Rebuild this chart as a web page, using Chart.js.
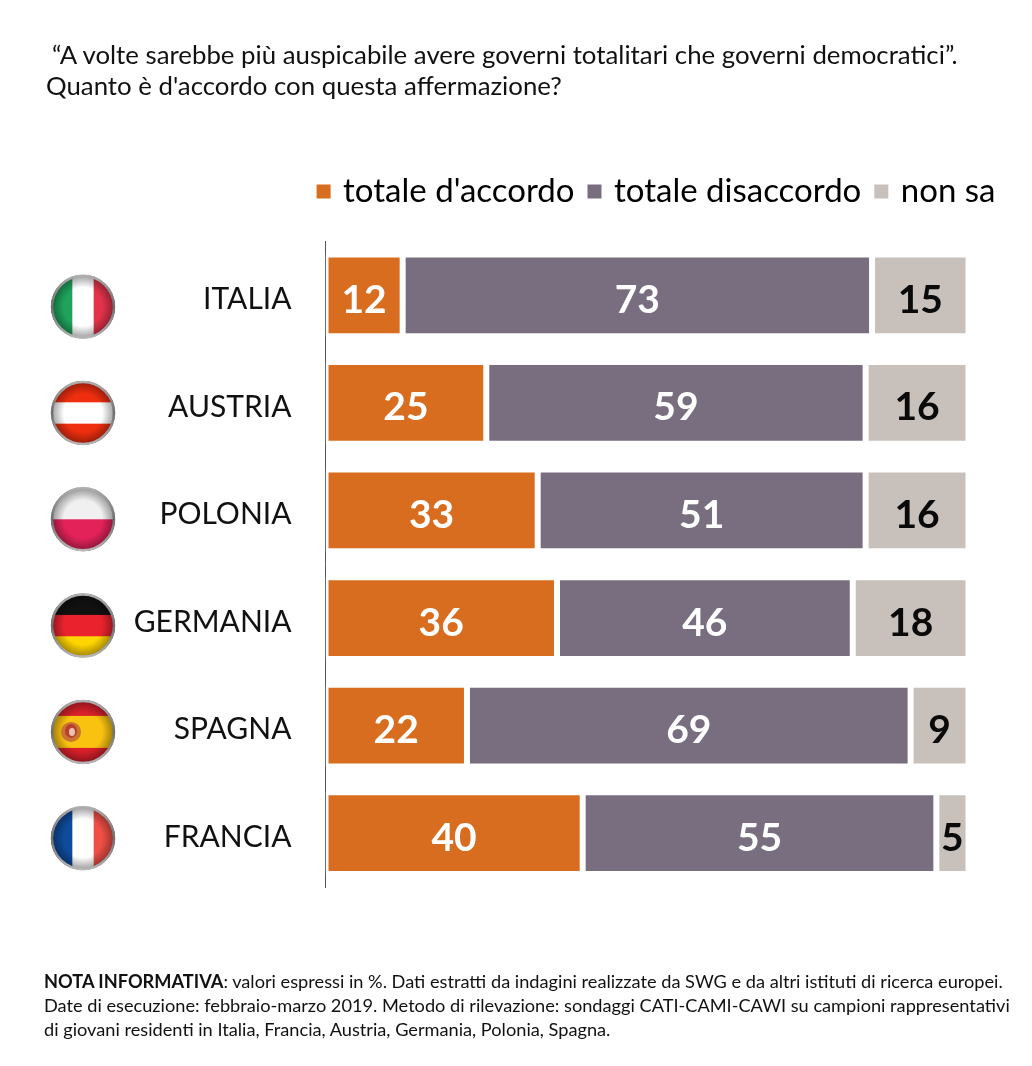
<!DOCTYPE html>
<html lang="it">
<head>
<meta charset="utf-8">
<title>Governi totalitari</title>
<script src="https://cdn.jsdelivr.net/npm/chart.js@4"></script>
<style>
  html, body { margin: 0; padding: 0; background: #fff; }
  body { width: 1032px; height: 1066px; position: relative; overflow: hidden; font-family: Lato, sans-serif; color: #111; }
  #chart { position: absolute; left: 0; top: 0; }
  .title { position: absolute; white-space: nowrap; font-size: 25.8px; line-height: 30px; }
  .note { position: absolute; left: 44px; white-space: nowrap; font-size: 18.2px; line-height: 24px; }
</style>
</head>
<body>
<canvas id="chart" width="1032" height="1066"></canvas>
<div class="title" style="left:52px;top:39px">“A volte sarebbe più auspicabile avere governi totalitari che governi democratici”.</div>
<div class="title" style="left:46px;top:70px">Quanto è d'accordo con questa affermazione?</div>
<div class="note" style="top:969px"><b>NOTA INFORMATIVA</b>: valori espressi in %. Dati estratti da indagini realizzate da SWG e da altri istituti di ricerca europei.</div>
<div class="note" style="top:993px">Date di esecuzione: febbraio-marzo 2019. Metodo di rilevazione: sondaggi CATI-CAMI-CAWI su campioni rappresentativi</div>
<div class="note" style="top:1017px">di giovani residenti in Italia, Francia, Austria, Germania, Polonia, Spagna.</div>
<script>
const countries = ['ITALIA', 'AUSTRIA', 'POLONIA', 'GERMANIA', 'SPAGNA', 'FRANCIA'];
const accordo = [12, 25, 33, 36, 22, 40];
const disaccordo = [73, 59, 51, 46, 69, 55];
const nonSa = [15, 16, 16, 18, 9, 5];

// flags, one list of stripes per country
const flags = [
    { dir: 'v', colors: ['#1fa35c', '#ffffff', '#e2334b'] },
    { dir: 'h', colors: ['#ee2e0f', '#ffffff', '#ee2e0f'] },
    { dir: 'h', colors: ['#f0f0f0', '#e3225a'] },
    { dir: 'h', colors: ['#111111', '#e9222e', '#ffd500'] },
    { dir: 'h', colors: ['#d9202a', '#f9c211', '#f9c211', '#d9202a'] },
    { dir: 'v', colors: ['#0e4b9b', '#ffffff', '#ef4f45'] },
];

const valueLabels = {
    id: 'valueLabels',
    afterDatasetsDraw(chart) {
        const ctx = chart.ctx;
        ctx.save();
        ctx.font = 'bold 39px Lato';
        ctx.textAlign = 'center';
        ctx.textBaseline = 'middle';
        chart.data.datasets.forEach((ds, i) => {
            ctx.fillStyle = i === 2 ? '#0a0a0a' : '#ffffff';
            chart.getDatasetMeta(i).data.forEach((bar, j) => {
                const c = bar.getCenterPoint();
                ctx.fillText(ds.data[j], c.x, c.y + 5);
            });
        });
        ctx.restore();
    }
};

function drawFlag(ctx, flag, x, y, r) {
    ctx.save();
    ctx.beginPath();
    ctx.arc(x, y, r, 0, Math.PI * 2);
    ctx.clip();
    const n = flag.colors.length;
    flag.colors.forEach((color, i) => {
        ctx.fillStyle = color;
        if (flag.dir === 'v') {
            ctx.fillRect(x - r + (2 * r * i) / n, y - r, (2 * r) / n + 1, 2 * r);
        } else {
            ctx.fillRect(x - r, y - r + (2 * r * i) / n, 2 * r, (2 * r) / n + 1);
        }
    });
    const shade = ctx.createRadialGradient(x, y, r * 0.6, x, y, r);
    shade.addColorStop(0, 'rgba(0,0,0,0)');
    shade.addColorStop(1, 'rgba(0,0,0,0.4)');
    ctx.fillStyle = shade;
    ctx.fillRect(x - r, y - r, 2 * r, 2 * r);
    ctx.restore();

    const ring = ctx.createLinearGradient(x, y - r, x, y + r);
    ring.addColorStop(0, '#b0b0b0');
    ring.addColorStop(0.5, '#6e6e6e');
    ring.addColorStop(1, '#b8b8b8');
    ctx.strokeStyle = ring;
    ctx.lineWidth = 2.5;
    ctx.beginPath();
    ctx.arc(x, y, r - 1, 0, Math.PI * 2);
    ctx.stroke();
}

const flagIcons = {
    id: 'flagIcons',
    afterDraw(chart) {
        const ctx = chart.ctx;
        flags.forEach((flag, i) => {
            const y = 306.7 + 106.3 * i;
            drawFlag(ctx, flag, 83, y, 32);
            if (countries[i] === 'SPAGNA') {
                // small coat of arms
                ctx.fillStyle = '#c9752f';
                ctx.beginPath();
                ctx.ellipse(71, y, 10, 10, 0, 0, Math.PI * 2);
                ctx.fill();
                ctx.fillStyle = '#b8402a';
                ctx.beginPath();
                ctx.ellipse(71, y - 1, 6, 7, 0, 0, Math.PI * 2);
                ctx.fill();
                ctx.fillStyle = '#eac3b0';
                ctx.beginPath();
                ctx.ellipse(72, y, 3, 4, 0, 0, Math.PI * 2);
                ctx.fill();
            }
        });
    }
};

// the legend sits higher than the layout puts it and sticks out past the bars
const legendSpot = {
    id: 'legendSpot',
    afterLayout(chart) {
        chart.legend.right += 44;
        chart.legend.top -= 23.5;
    }
};

new Chart(document.getElementById('chart'), {
    type: 'bar',
    data: {
        labels: countries,
        datasets: [
            { label: "totale d'accordo", data: accordo, backgroundColor: '#d86d1f' },
            { label: 'totale disaccordo', data: disaccordo, backgroundColor: '#786e80' },
            { label: 'non sa', data: nonSa, backgroundColor: '#c8c0ba' },
        ],
    },
    options: {
        indexAxis: 'y',
        responsive: false,
        animation: false,
        layout: { padding: { top: 181.5, right: 63.5, bottom: 179, left: 0 } },
        datasets: {
            bar: {
                categoryPercentage: 1,
                barPercentage: 0.76,
                borderWidth: 3,
                borderColor: '#ffffff',
                borderSkipped: false,
            },
        },
        scales: {
            x: { stacked: true, min: 0, max: 100, display: false },
            y: {
                stacked: true,
                afterFit(scale) { scale.width = 325.5; },
                grid: { drawOnChartArea: false, drawTicks: false },
                border: { color: '#555555', width: 1 },
                ticks: { padding: 34, labelOffset: 4, color: '#111111', font: { family: 'Lato', size: 30 } },
            },
        },
        plugins: {
            tooltip: { enabled: false },
            legend: {
                position: 'top',
                align: 'end',
                labels: {
                    // small box plus thick stroke, so the text sits closer to the square
                    boxWidth: 6,
                    boxHeight: 6,
                    padding: 17,
                    color: '#111111',
                    font: { family: 'Lato', size: 33 },
                    generateLabels(chart) {
                        return chart.data.datasets.map((ds, i) => ({
                            text: ds.label,
                            fillStyle: ds.backgroundColor,
                            strokeStyle: ds.backgroundColor,
                            lineWidth: 8,
                            datasetIndex: i,
                        }));
                    },
                },
            },
        },
    },
    plugins: [valueLabels, flagIcons, legendSpot],
});
</script>
</body>
</html>
